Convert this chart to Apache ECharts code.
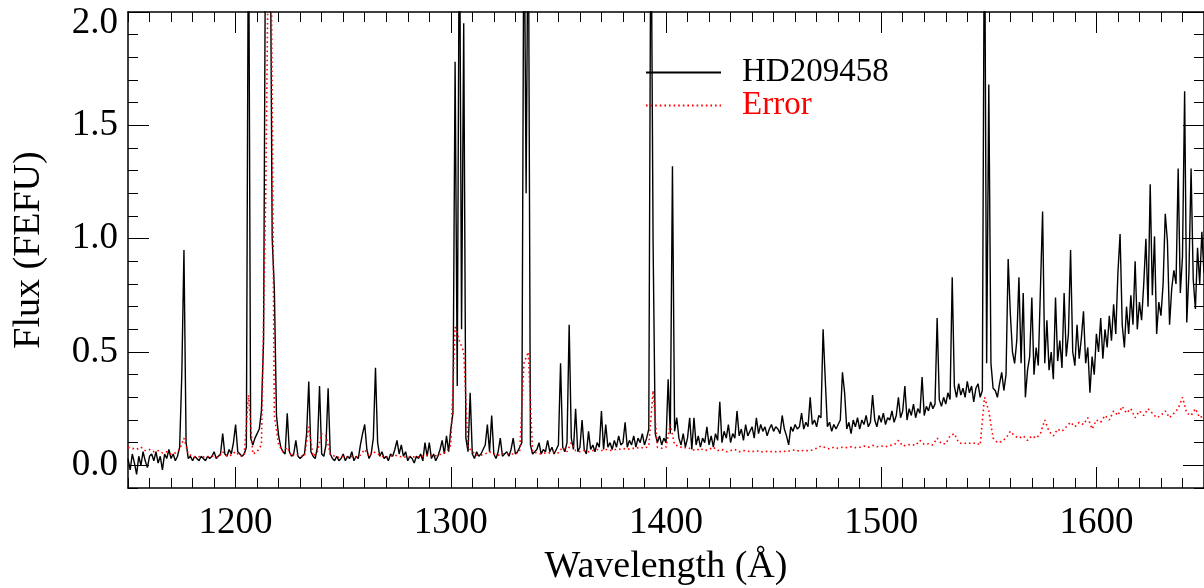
<!DOCTYPE html>
<html>
<head>
<meta charset="utf-8">
<script src="https://cdn.jsdelivr.net/npm/echarts@6/dist/echarts.min.js"></script>
<style>
html,body{margin:0;padding:0;background:#fff;}
#chart{width:1204px;height:588px;}
</style>
</head>
<body>
<div id="chart"></div>
<script>
// Wavelength sampling (Angstrom)
const FLUX_START = 1150, FLUX_STEP = 1;
const ERR_START = 1150, ERR_STEP = 2;

// HD209458 flux (FEFU), one value per Angstrom from 1150
const flux = [
0.03,-0.02,0.05,0.01,-0.04,0.04,0.00,0.06,0.02,-0.01,
0.04,0.05,0.02,0.06,0.01,0.04,-0.02,0.05,0.03,0.07,
0.03,0.05,0.02,0.04,0.08,0.40,0.95,0.10,0.03,0.04,
0.02,0.04,0.03,0.02,0.04,0.03,0.02,0.04,0.03,0.04,
0.06,0.03,0.04,0.05,0.14,0.05,0.04,0.07,0.05,0.10,
0.18,0.06,0.05,0.04,0.05,0.08,2.60,0.12,0.09,0.12,
0.14,0.16,0.24,0.55,2.60,2.60,2.60,1.00,0.78,0.22,
0.13,0.08,0.06,0.05,0.23,0.06,0.04,0.05,0.11,0.04,
0.03,0.04,0.05,0.14,0.37,0.06,0.04,0.03,0.08,0.35,
0.05,0.04,0.09,0.34,0.05,0.03,0.02,0.04,0.02,0.03,
0.05,0.02,0.04,0.03,0.06,0.02,0.04,0.03,0.09,0.14,
0.18,0.07,0.03,0.05,0.12,0.43,0.10,0.04,0.06,0.03,
0.04,0.02,0.05,0.04,0.07,0.11,0.05,0.09,0.04,0.06,
0.02,0.04,0.03,0.01,0.04,0.03,0.05,0.02,0.10,0.04,
0.10,0.03,0.05,0.02,0.04,0.07,0.11,0.05,0.13,0.06,
0.16,0.23,1.78,0.35,2.60,0.60,1.95,0.12,0.06,0.32,
0.05,0.03,0.06,0.04,0.05,0.07,0.09,0.18,0.06,0.22,
0.05,0.03,0.06,0.12,0.04,0.05,0.06,0.04,0.07,0.12,
0.05,0.06,0.08,0.10,2.60,1.20,2.60,0.09,0.05,0.06,
0.07,0.10,0.05,0.07,0.06,0.11,0.06,0.08,0.05,0.07,
0.09,0.45,0.08,0.06,0.10,0.62,0.12,0.07,0.25,0.06,
0.08,0.20,0.07,0.05,0.15,0.07,0.09,0.06,0.10,0.08,
0.24,0.07,0.18,0.08,0.10,0.07,0.11,0.08,0.13,0.09,
0.10,0.19,0.08,0.11,0.09,0.13,0.08,0.12,0.10,0.14,
0.09,0.12,0.16,2.60,0.98,0.14,0.10,0.13,0.09,0.12,
0.10,0.38,0.14,1.32,0.15,0.21,0.12,0.09,0.14,0.08,
0.12,0.21,0.07,0.21,0.09,0.13,0.08,0.12,0.10,0.17,
0.09,0.13,0.08,0.14,0.11,0.28,0.10,0.15,0.12,0.18,
0.10,0.14,0.12,0.24,0.13,0.16,0.11,0.18,0.13,0.15,
0.17,0.12,0.21,0.14,0.18,0.15,0.17,0.13,0.16,0.18,
0.15,0.17,0.16,0.14,0.22,0.16,0.13,0.09,0.17,0.15,
0.18,0.16,0.17,0.23,0.16,0.19,0.17,0.30,0.18,0.20,
0.17,0.22,0.21,0.60,0.38,0.17,0.19,0.15,0.18,0.16,
0.18,0.20,0.41,0.32,0.16,0.19,0.14,0.20,0.17,0.21,
0.16,0.20,0.18,0.22,0.17,0.19,0.31,0.20,0.17,0.22,
0.19,0.23,0.18,0.21,0.20,0.24,0.19,0.22,0.30,0.21,
0.24,0.35,0.20,0.25,0.22,0.27,0.21,0.25,0.23,0.39,
0.22,0.26,0.24,0.28,0.25,0.27,0.65,0.29,0.26,0.30,
0.27,0.32,0.29,0.83,0.35,0.30,0.36,0.31,0.34,0.30,
0.37,0.32,0.35,0.28,0.34,0.36,0.30,0.33,2.60,0.45,
1.68,0.45,0.34,0.33,0.30,0.36,0.41,0.33,0.40,0.91,
0.67,0.50,0.45,0.55,0.83,0.45,0.76,0.30,0.42,0.48,
0.74,0.40,0.52,0.44,0.78,1.12,0.45,0.64,0.42,0.50,
0.38,0.74,0.46,0.55,0.43,0.76,0.48,0.58,0.95,0.50,
0.44,0.62,0.47,0.56,0.68,0.45,0.52,0.32,0.48,0.40,
0.58,0.50,0.65,0.47,0.60,0.52,0.66,0.55,0.71,0.58,
0.85,1.02,0.62,0.52,0.70,0.58,0.75,0.62,0.90,0.60,
0.72,0.64,0.80,1.00,0.70,1.24,0.75,1.01,0.58,0.72,
0.66,0.80,1.11,0.99,0.62,0.78,0.86,0.80,1.31,0.76,
0.92,1.65,0.63,0.85,1.31,0.82,0.69,0.96,0.80,1.03,
0.85
];

// Error (FEFU), one value per 2 Angstrom from 1150
const errorVals = [
0.080,0.075,0.070,0.080,0.065,0.070,0.060,0.065,0.055,0.060,
0.050,0.055,0.070,0.120,0.050,0.040,0.035,0.040,0.035,0.040,
0.040,0.035,0.060,0.040,0.045,0.060,0.040,0.045,0.310,0.050,
0.060,0.090,1.200,3.000,0.220,0.090,0.060,0.080,0.040,0.050,
0.040,0.040,0.170,0.040,0.060,0.140,0.130,0.050,0.040,0.035,
0.040,0.035,0.040,0.035,0.045,0.070,0.040,0.060,0.050,0.040,
0.035,0.040,0.045,0.040,0.035,0.040,0.035,0.040,0.035,0.045,
0.045,0.040,0.045,0.050,0.060,0.090,0.610,0.550,0.500,0.080,
0.060,0.045,0.045,0.050,0.060,0.050,0.045,0.050,0.050,0.050,
0.050,0.060,0.450,0.500,0.060,0.055,0.050,0.055,0.055,0.060,
0.055,0.080,0.060,0.100,0.065,0.060,0.065,0.060,0.065,0.070,
0.065,0.070,0.065,0.070,0.070,0.075,0.070,0.075,0.075,0.080,
0.075,0.085,0.330,0.080,0.075,0.080,0.180,0.090,0.085,0.075,
0.080,0.070,0.065,0.075,0.065,0.070,0.080,0.065,0.070,0.060,
0.065,0.070,0.060,0.065,0.062,0.060,0.065,0.058,0.062,0.060,
0.062,0.058,0.063,0.060,0.065,0.068,0.062,0.066,0.064,0.068,
0.075,0.085,0.078,0.072,0.080,0.075,0.080,0.078,0.082,0.078,
0.080,0.085,0.080,0.088,0.082,0.085,0.082,0.088,0.090,0.110,
0.085,0.090,0.092,0.088,0.110,0.092,0.095,0.090,0.120,0.095,
0.095,0.130,0.140,0.100,0.095,0.100,0.095,0.100,0.090,0.300,
0.240,0.120,0.100,0.105,0.120,0.150,0.130,0.120,0.130,0.110,
0.130,0.120,0.140,0.200,0.150,0.130,0.160,0.150,0.170,0.190,
0.170,0.190,0.180,0.210,0.160,0.200,0.190,0.220,0.200,0.240,
0.220,0.260,0.230,0.250,0.210,0.240,0.220,0.250,0.230,0.210,
0.220,0.240,0.210,0.230,0.250,0.300,0.230,0.220,0.250,0.210,
0.220
];

const xMajorTicks = [1200, 1300, 1400, 1500, 1600];
const yMajorTicks = [0.0, 0.5, 1.0, 1.5, 2.0];
const seriesNames = ['HD209458', 'Error'];

const fluxData = flux.map((v, i) => [FLUX_START + i * FLUX_STEP, v]);
const errData = errorVals.map((v, i) => [ERR_START + i * ERR_STEP, v]);

const FONT = "'Liberation Serif','DejaVu Serif',serif";
const X_MIN = 1150, X_MAX = 1650, Y_MIN = -0.1, Y_MAX = 2.0;

function xAx(pos, major, labels) {
  const a = {
    type: 'value', min: X_MIN, max: X_MAX, position: pos,
    splitLine: {show: false},
    axisLine: {show: major, onZero: false, lineStyle: {color: '#000', width: 1.5}},
    axisTick: {show: true, inside: true, length: major ? 21 : 10, lineStyle: {color: '#000', width: 1}},
    axisLabel: {show: false}
  };
  if (major) {
    a.axisTick.customValues = xMajorTicks;
    a.axisLabel = labels ? {show: true, customValues: xMajorTicks, color: '#000', fontFamily: FONT, fontSize: 37, margin: 17,
      formatter: v => String(Math.round(v))} : {show: false};
  } else {
    a.interval = 10;
  }
  if (labels) {
    a.name = 'Wavelength (Å)';
    a.nameLocation = 'middle';
    a.nameGap = 60;
    a.nameTextStyle = {color: '#000', fontFamily: FONT, fontSize: 38};
  }
  return a;
}
function yAx(pos, major, labels) {
  const a = {
    type: 'value', min: Y_MIN, max: Y_MAX, position: pos,
    splitLine: {show: false},
    axisLine: {show: major, onZero: false, lineStyle: {color: '#000', width: 1.5}},
    axisTick: {show: true, inside: true, length: major ? 21 : 10, lineStyle: {color: '#000', width: 1}},
    axisLabel: {show: false}
  };
  if (major) {
    a.axisTick.customValues = yMajorTicks;
    a.axisLabel = labels ? {show: true, customValues: yMajorTicks, color: '#000', fontFamily: FONT, fontSize: 37, margin: 10,
      formatter: v => (Math.abs(v - Y_MAX) < 1e-9 ? '{top|' + Number(v).toFixed(1) + '}' : Number(v).toFixed(1)),
      rich: {top: {fontFamily: FONT, fontSize: 37, color: '#000', padding: [22, 0, 0, 0]}}} : {show: false};
  } else {
    a.interval = 0.1;
  }
  if (labels) {
    a.name = 'Flux (FEFU)';
    a.nameLocation = 'middle';
    a.nameGap = 80;
    a.nameRotate = 90;
    a.nameTextStyle = {color: '#000', fontFamily: FONT, fontSize: 38};
  }
  return a;
}

const chart = echarts.init(document.getElementById('chart'), null, {renderer: 'canvas'});
chart.setOption({
  animation: false,
  backgroundColor: '#fff',
  grid: {left: 128, right: 0, top: 12, bottom: 100, containLabel: false, outerBoundsMode: 'none'},
  xAxis: [xAx('bottom', true, true), xAx('bottom', false, false), xAx('top', true, false), xAx('top', false, false)],
  yAxis: [yAx('left', true, true), yAx('left', false, false), yAx('right', true, false), yAx('right', false, false)],
  legend: {
    show: true, orient: 'vertical', left: 645, top: 56, padding: 0, selectedMode: false,
    itemWidth: 75, itemHeight: 14, itemGap: 0,
    itemStyle: {color: 'rgba(0,0,0,0)', borderColor: 'rgba(0,0,0,0)', borderWidth: 0},
    textStyle: {fontFamily: FONT, fontSize: 33, color: '#000', lineHeight: 32, padding: [0, 0, 0, 16]},
    data: [
      {name: seriesNames[0]},
      {name: seriesNames[1], textStyle: {color: '#ff0000'}}
    ]
  },
  series: [
    {
      name: seriesNames[0], type: 'line', data: fluxData, xAxisIndex: 0, yAxisIndex: 0,
      symbol: 'none', showSymbol: false, clip: true,
      lineStyle: {color: '#000', width: 1.4}, itemStyle: {color: '#000'}
    },
    {
      name: seriesNames[1], type: 'line', data: errData, xAxisIndex: 0, yAxisIndex: 0,
      symbol: 'none', showSymbol: false, clip: true,
      lineStyle: {color: '#ff0000', width: 1.6, type: [1.6, 3]}, itemStyle: {color: '#ff0000'}
    }
  ]
});
</script>
</body>
</html>
